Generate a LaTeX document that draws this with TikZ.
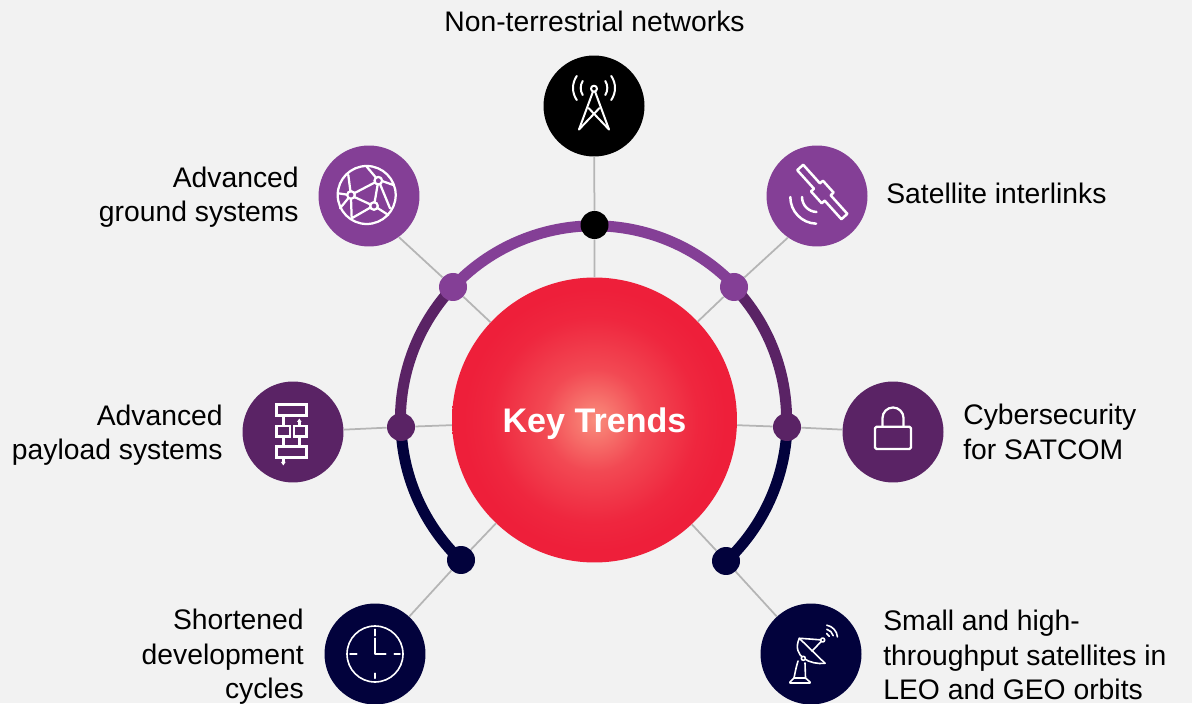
\documentclass[tikz,border=0pt]{standalone}
\usepackage{fontspec}
\setmainfont{Liberation Sans}
\usetikzlibrary{positioning}
\definecolor{pagegrey}{HTML}{F2F2F2}
\definecolor{linegrey}{HTML}{B5B5B5}
\definecolor{trendpurple}{HTML}{843F96}
\definecolor{trendplum}{HTML}{5A2365}
\definecolor{trendnavy}{HTML}{02023C}
\definecolor{trendred}{HTML}{EE1F3A}
\definecolor{trendglow}{HTML}{F98D7C}
\tikzset{
   icondisc/.style={
     circle,minimum size=2.02cm,inner sep=0pt
   },
   trenddot/.style={
     circle,minimum size=0.56cm,inner sep=0pt
   },
   label/.style={
     font=\fontsize{16.1}{19.6}\selectfont,text=black,inner sep=0pt
   },
   leftlabel/.style={label,anchor=east,align=right},
   rightlabel/.style={label,anchor=west,align=left},
   spoke/.style={linegrey,line width=0.035cm},
   ring/.style={line width=0.22cm},
   iconline/.style={white,line width=0.04cm,line cap=round,line join=round},
   iconthin/.style={white,line width=0.032cm,line cap=round,line join=round}
}
\pgfdeclareradialshading{trendshade}{\pgfpoint{0bp}{0bp}}{
   color(0bp)=(trendglow);
   color(9bp)=(trendglow!38!trendred);
   color(18bp)=(trendglow!7!trendred);
   color(23bp)=(trendred);
   color(50bp)=(trendred)
}
\begin{document}
\begin{tikzpicture}[x=0.02cm,y=0.02cm]
   \useasboundingbox[fill=pagegrey] (0,0) rectangle (1192,703);

   % icons and centre
   \node[icondisc,fill=black](network) at (594,597) {};
   \node[icondisc,fill=trendpurple](ground) at (369,507) {};
   \node[icondisc,fill=trendpurple](interlink) at (817,507) {};
   \node[icondisc,fill=trendplum](payload) at (293,271) {};
   \node[icondisc,fill=trendplum](cyber) at (893,271) {};
   \node[icondisc,fill=trendnavy](cycles) at (375,49) {};
   \node[icondisc,fill=trendnavy](smallsat) at (811,49) {};
   \node[circle,minimum size=5.7cm,inner sep=0pt,shading=trendshade,text=white,text depth=0pt,font=\bfseries\fontsize{19.4}{23}\selectfont](trends) at (594.5,283) {Key Trends};

   % dots on the ring
   \node[trenddot](dotnetwork) at (594.5,478) {};
   \node[trenddot](dotground) at (453,416) {};
   \node[trenddot](dotinterlink) at (734,416) {};
   \node[trenddot](dotpayload) at (401,276) {};
   \node[trenddot](dotcyber) at (787,276) {};
   \node[trenddot](dotcycles) at (461,143) {};
   \node[trenddot](dotsmallsat) at (726,142) {};

   \draw[spoke] (trends) -- (dotnetwork) -- (network);
   \draw[spoke] (trends) -- (dotground) -- (ground.-54);
   \draw[spoke] (trends) -- (dotinterlink) -- (interlink.235);
   \draw[spoke] (trends) -- (dotpayload) -- (payload);
   \draw[spoke] (trends) -- (dotcyber) -- (cyber);
   \draw[spoke] (trends) -- (dotcycles) -- (cycles);
   \draw[spoke] (trends) -- (dotsmallsat) -- (smallsat);

   \draw[ring,trendnavy] (dotpayload.center) arc[start angle=182,end angle=226.4,radius=194];
   \draw[ring,trendnavy] (dotcyber.center) arc[start angle=-2,end angle=-46.9,radius=194];
   \draw[ring,trendplum] (dotground.center) arc[start angle=136.8,end angle=182,radius=194];
   \draw[ring,trendplum] (dotinterlink.center) arc[start angle=43.2,end angle=-2,radius=194];
   \draw[ring,trendpurple] (dotground.center) arc[start angle=136.8,end angle=43.2,radius=194];

   \node[trenddot,fill=black] at (dotnetwork) {};
   \node[trenddot,fill=trendpurple] at (dotground) {};
   \node[trenddot,fill=trendpurple] at (dotinterlink) {};
   \node[trenddot,fill=trendplum] at (dotpayload) {};
   \node[trenddot,fill=trendplum] at (dotcyber) {};
   \node[trenddot,fill=trendnavy] at (dotcycles) {};
   \node[trenddot,fill=trendnavy] at (dotsmallsat) {};

   % labels
   \node[label](networktext) at (594.5,682) {Non-terrestrial networks};
   \node[leftlabel](groundtext) at (299,506) {Advanced\\ground systems};
   \node[rightlabel](interlinktext) at (886,510) {Satellite interlinks};
   \node[leftlabel](payloadtext) at (223,268) {Advanced\\payload systems};
   \node[rightlabel](cybertext) at (963,271) {Cybersecurity\\for SATCOM};
   \node[leftlabel](cyclestext) at (304,46) {Shortened\\development\\cycles};
   \node[rightlabel](smallsattext) at (883,48) {Small and high-\\throughput satellites in\\LEO and GEO orbits};

   % tower
   \begin{scope}[shift={(network)},iconline]
      \draw (0,17.3) circle (3);
      \draw (-15,-23.5) -- (-1,14.5) (15,-23.5) -- (1,14.5);
      \draw (-15,-23.5) -- (5.5,-2) (15,-23.5) -- (-5.5,-2);
      \draw (0,18) ++(145:21) arc[start angle=145,end angle=215,radius=21];
      \draw (0,18) ++(148:13.3) arc[start angle=148,end angle=212,radius=13.3];
      \draw (0,18) ++(35:21) arc[start angle=35,end angle=-35,radius=21];
      \draw (0,18) ++(32:13.3) arc[start angle=32,end angle=-32,radius=13.3];
   \end{scope}

   % satellite
   \begin{scope}[shift={(interlink)},iconline,line width=0.05cm]
      \draw[rotate around={-48:(5.3,4)},shift={(5.3,4)}] (-33,4) -- (-8,4) -- (-8,8) -- (8,8) -- (8,4) -- (33,4) -- (33,-4) -- (8,-4) -- (8,-8) -- (-8,-8) -- (-8,-4) -- (-33,-4) -- cycle;
      \draw (-26.7,-1) arc[start angle=180,end angle=268,radius=26.7];
      \draw (-15,-1) arc[start angle=180,end angle=268,radius=15];
   \end{scope}

   % globe
   \begin{scope}[shift={(ground)},iconline,line width=0.045cm]
      \draw (-2.3,1) circle (29);
      \draw (-18,1) circle (3.8) (9.3,15.3) circle (3.8) (5,-10) circle (3.8);
      \draw (-14.7,2.8) -- (6,13.6) (-14.7,-1) -- (1.6,-8.5) (8.7,11.6) -- (5.6,-6.3);
      \draw (-18.6,4.8) -- (-20.7,21) (-18,-2.8) -- (-17.3,-22.3) (-21.8,1.3) -- (-30.7,2.7) (-20.5,-2) -- (-29,-12.3);
      \draw (7,18.3) -- (-2.3,29.3) (13,15) -- (24.3,11) (11,12) -- (21,-12.3);
      \draw (1.5,-11.5) -- (-17.3,-22.3) (8.5,-12) -- (19.3,-19);
   \end{scope}

   % payload blocks
   \begin{scope}[shift={(payload)},iconline,line width=0.05cm,line cap=butt,line join=miter]
      \draw (-16.3,16.3) rectangle (13.7,27.7);
      \draw (-16.3,-4.7) rectangle (-3,6);
      \draw (1,-4.7) rectangle (13.7,6);
      \draw (-16.3,-25.7) rectangle (13.7,-14.7);
      \draw (-9.7,16.3) -- (-9.7,6) (-9.7,-4.7) -- (-9.7,-14.7) (-9.7,-25.7) -- (-9.7,-30);
      \draw (6.3,-14.7) -- (6.3,-4.7) (6.3,6) -- (6.3,10);
      \fill (-12,-30) -- (-7.4,-30) -- (-9.7,-33.5) -- cycle;
      \fill (4,10) -- (8.6,10) -- (6.3,13.5) -- cycle;
   \end{scope}

   % lock
   \begin{scope}[shift={(cyber)},iconline,line width=0.045cm]
      \draw[rounded corners=0.03cm] (-18,-17) rectangle (18,5.3);
      \draw (-10.5,5.3) -- (-10.5,14) arc[start angle=180,end angle=0,radius=10.5] -- (10.5,5.3);
   \end{scope}

   % clock
   \begin{scope}[shift={(cycles)},iconthin]
      \draw (0,0) circle (28);
      \draw (0,24.7) -- (0,18.3) (0,-19.3) -- (0,-24.3) (-25,0) -- (-18.3,0) (19.3,0) -- (25,0);
      \draw (0,15.7) -- (0,0) -- (10.7,0);
   \end{scope}

   % dish
   \begin{scope}[shift={(smallsat)},iconthin]
      \draw (-11.7,15.7) .. controls (-20,-3) and (0,-11) .. (14,-9.3);
      \draw (-11.7,15.7) -- (14,-9.3);
      \draw (-11,15.7) -- (11.7,14) -- (1,3);
      \draw[fill=trendnavy] (11.7,14) circle (2);
      \draw[fill=trendnavy] (-7.7,-4.3) circle (2);
      \draw (-13,-7) .. controls (-15,-14) .. (-17,-24) -- (-21,-28) -- (-21,-29) -- (-1,-29) -- (-1,-28) -- (-5.5,-24) -- (-6,-9);
      \draw (-17,-24) -- (-5.5,-24);
      \draw (13.5,16) +(65:5) arc[start angle=65,end angle=20,radius=5];
      \draw (13.5,16) +(75:9) arc[start angle=75,end angle=15,radius=9];
      \draw (13.5,16) +(80:13) arc[start angle=80,end angle=5,radius=13];
   \end{scope}
\end{tikzpicture}
\end{document}
